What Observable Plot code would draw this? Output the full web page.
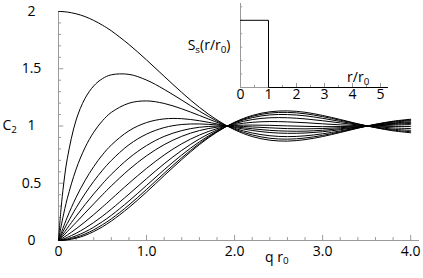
<!DOCTYPE html>
<html><head><meta charset="utf-8">
<script src="https://cdn.jsdelivr.net/npm/d3@7"></script>
<script src="https://cdn.jsdelivr.net/npm/@observablehq/plot@0.6"></script>
<style>
body{margin:0;background:#fff;}
#wrap{position:relative;width:423px;height:278px;font-family:"Open Sans",sans-serif;}
#wrap svg{position:absolute;left:0;top:0;overflow:visible;background:none;}
</style></head><body><div id="wrap"></div>
<script>
// q r0 sample points
const qValues = [0,0.025,0.05,0.1,0.2,0.3,0.4,0.5,0.6,0.8,1.0,1.2,1.4,1.6,1.8,2.0,2.2,2.4,2.6,2.8,3.0,3.2,3.4,3.6,3.8,4.0];
// C2 curves (top to bottom at small q)
const curveA = [2,2.0,1.999,1.995,1.980,1.956,1.922,1.880,1.831,1.712,1.577,1.434,1.293,1.163,1.053,0.967,0.908,0.876,0.868,0.881,0.908,0.943,0.981,1.015,1.042,1.059];
const curveB = [0,0.244,0.436,0.716,1.052,1.239,1.350,1.414,1.447,1.451,1.401,1.320,1.226,1.130,1.043,0.972,0.922,0.893,0.885,0.895,0.918,0.949,0.983,1.014,1.038,1.054];
const curveC = [0,0.105,0.201,0.367,0.623,0.809,0.946,1.046,1.119,1.199,1.219,1.197,1.150,1.092,1.032,0.979,0.939,0.915,0.907,0.914,0.932,0.957,0.985,1.012,1.033,1.047];
const curveD = [0,0.054,0.106,0.204,0.377,0.522,0.645,0.749,0.834,0.958,1.030,1.062,1.064,1.046,1.018,0.987,0.961,0.943,0.936,0.939,0.950,0.968,0.989,1.009,1.026,1.037];
const curveE = [0,0.038,0.076,0.149,0.285,0.407,0.517,0.614,0.699,0.836,0.929,0.986,1.013,1.018,1.009,0.993,0.976,0.962,0.955,0.955,0.963,0.976,0.991,1.007,1.021,1.030];
const curveF = [0,0.027,0.054,0.107,0.212,0.312,0.407,0.496,0.578,0.719,0.829,0.909,0.960,0.989,0.999,0.999,0.992,0.984,0.977,0.975,0.978,0.985,0.994,1.005,1.015,1.022];
const curveG = [0,0.019,0.038,0.078,0.158,0.239,0.320,0.400,0.477,0.619,0.740,0.837,0.910,0.960,0.990,1.005,1.008,1.006,1.001,0.997,0.994,0.995,0.998,1.002,1.008,1.012];
const curveH = [0,0.011,0.023,0.048,0.102,0.162,0.226,0.293,0.362,0.500,0.630,0.747,0.845,0.921,0.977,1.013,1.032,1.039,1.036,1.029,1.019,1.010,1.003,0.998,0.996,0.996];
const curveI = [0,0.006,0.012,0.027,0.063,0.107,0.157,0.213,0.274,0.405,0.540,0.670,0.787,0.887,0.965,1.021,1.056,1.072,1.072,1.062,1.046,1.027,1.009,0.994,0.983,0.978];
const curveJ = [0,0.003,0.006,0.015,0.041,0.074,0.116,0.165,0.220,0.345,0.481,0.618,0.747,0.862,0.956,1.027,1.073,1.097,1.100,1.089,1.067,1.040,1.013,0.990,0.972,0.962];
const curveK = [0,0.001,0.003,0.009,0.028,0.056,0.093,0.138,0.189,0.310,0.446,0.587,0.723,0.847,0.951,1.030,1.084,1.113,1.119,1.107,1.082,1.050,1.017,0.987,0.964,0.950];
const curveL = [0,0.0003,0.001,0.005,0.020,0.044,0.078,0.120,0.170,0.288,0.423,0.567,0.707,0.837,0.947,1.033,1.092,1.124,1.132,1.120,1.092,1.057,1.019,0.985,0.958,0.941];
const curveNames = ["A","B","C","D","E","F","G","H","I","J","K","L"];
const curveList = [curveA,curveB,curveC,curveD,curveE,curveF,curveG,curveH,curveI,curveJ,curveK,curveL];

// axis ticks
const xTickLabels = [0,1,2,3,4];
const xMinorTicks = [0.2,0.4,0.6,0.8,1.2,1.4,1.6,1.8,2.2,2.4,2.6,2.8,3.2,3.4,3.6,3.8];
const yTickLabels = [0,0.5,1,1.5,2];
const yMinorTicks = [0.1,0.2,0.3,0.4,0.6,0.7,0.8,0.9,1.1,1.2,1.3,1.4,1.6,1.7,1.8,1.9];

// inset: step shape function
const rValues = [0,1,1,5.25];
const sValues = [1,1,0,0];
const insetXTicks = [0,1,2,3,4,5];
const insetXMinor = [0.5,1.5,2.5,3.5,4.5];
const insetYMinor = [0.2,0.4,0.6,0.8,1.0,1.2];

const rows = [];
curveList.forEach((c, k) => c.forEach((v, i) => rows.push({q: qValues[i], c: v, id: curveNames[k]})));

const axisGray = "#9a9a9a";
const main = Plot.plot({
  width: 423, height: 278,
  marginLeft: 58, marginRight: 4, marginTop: 11, marginBottom: 38,
  x: {domain: [0, 4.1], axis: null},
  y: {domain: [0, 2], axis: null},
  style: {fontFamily: "Open Sans, sans-serif", fontSize: "14px", color: "#000", background: "none"},
  marks: [
    Plot.ruleY([0], {x1: 0, x2: 4.1, stroke: axisGray}),
    Plot.ruleX([0], {y1: 0, y2: 2, stroke: axisGray}),
    Plot.ruleX(xMinorTicks, {x: d => d, y1: 0, y2: 0.025, stroke: axisGray}),
    Plot.ruleX(xTickLabels, {x: d => d, y1: 0, y2: 0.045, stroke: axisGray}),
    Plot.ruleY(yMinorTicks, {y: d => d, x1: 0, x2: 0.035, stroke: axisGray}),
    Plot.ruleY(yTickLabels, {y: d => d, x1: 0, x2: 0.06, stroke: axisGray}),
    Plot.line(rows, {x: "q", y: "c", z: "id", stroke: "#000", strokeWidth: 1, curve: "catmull-rom"}),
    Plot.axisX(xTickLabels, {tickSize: 0, tickPadding: 6, tickFormat: d => d === 0 ? "0" : d.toFixed(1), label: null, fontSize: 14}),
    Plot.axisY(yTickLabels, {tickSize: 0, tickPadding: 27, textAnchor: "middle", tickFormat: d => String(d), label: null, fontSize: 14}),
    Plot.text(["C2"], {frameAnchor: "left", y: [1], dx: -56, textAnchor: "start", fontSize: 14}),
    Plot.text(["q r0"], {x: [2.48], frameAnchor: "bottom", dy: 21, fontSize: 14})
  ]
});

const inset = Plot.plot({
  width: 273, height: 110,
  marginLeft: 90, marginRight: 36, marginTop: 3, marginBottom: 23,
  x: {domain: [0, 5.25], axis: null},
  y: {domain: [0, 1.25], axis: null},
  style: {fontFamily: "Open Sans, sans-serif", fontSize: "14px", color: "#000", background: "none"},
  marks: [
    Plot.ruleY([0], {x1: 0, x2: 5.25, stroke: axisGray}),
    Plot.ruleX([0], {y1: 0, y2: 1.25, stroke: axisGray}),
    Plot.ruleX(insetXMinor, {x: d => d, y1: 0, y2: 0.03, stroke: axisGray}),
    Plot.ruleX(insetXTicks, {x: d => d, y1: 0, y2: 0.06, stroke: axisGray}),
    Plot.ruleY(insetYMinor, {y: d => d, x1: 0, x2: 0.08, stroke: axisGray}),
    Plot.line(rValues.map((r, i) => ({r, s: sValues[i]})), {x: "r", y: "s", stroke: "#000", strokeWidth: 1}),
    Plot.axisX(insetXTicks, {tickSize: 0, tickPadding: 2, tickFormat: d => String(d), label: null, fontSize: 14}),
    Plot.text(["Ss(r/r0)"], {frameAnchor: "left", y: [0.62], dx: -10, textAnchor: "end", fontSize: 14}),
    Plot.text(["r/r0"], {x: [4.6], y: [0.15], textAnchor: "end", fontSize: 14})
  ]
});

const wrap = document.getElementById("wrap");
wrap.appendChild(main);
inset.style.left = "150px";
wrap.appendChild(inset);

function subscript(root, match, parts) {
  d3.select(root).selectAll("text").filter(function() { return this.textContent === match; }).each(function() {
    const t = d3.select(this);
    t.text(null);
    let shifted = false;
    parts.forEach(([s, isSub]) => {
      const sp = t.append("tspan").text(s);
      if (isSub) { sp.attr("font-size", "0.7em").attr("dy", "0.3em"); shifted = true; }
      else if (shifted) { sp.attr("dy", "-0.21em"); shifted = false; }
    });
  });
}
subscript(main, "C2", [["C", false], ["2", true]]);
subscript(main, "q r0", [["q r", false], ["0", true]]);
subscript(inset, "Ss(r/r0)", [["S", false], ["s", true], ["(r/r", false], ["0", true], [")", false]]);
subscript(inset, "r/r0", [["r/r", false], ["0", true]]);
</script></body></html>
